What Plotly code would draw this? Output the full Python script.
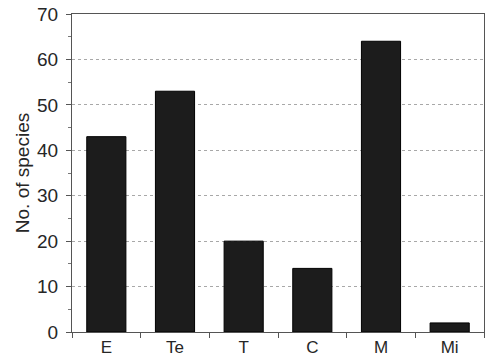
import plotly.graph_objects as go

categories = ["E", "Te", "T", "C", "M", "Mi"]
species = [43, 53, 20, 14, 64, 2]
y_ticks = [0, 10, 20, 30, 40, 50, 60, 70]

fig = go.Figure(go.Bar(
    x=categories, y=species,
    marker=dict(color="#1c1c1c", line=dict(color="#000000", width=1)),
))

fig.update_layout(
    width=488, height=357,
    margin=dict(l=72, r=4, t=14, b=25),
    paper_bgcolor="white", plot_bgcolor="white",
    bargap=0.43,
    showlegend=False,
    font=dict(family="Liberation Sans, Arial, sans-serif", color="#262626"),
)
fig.update_yaxes(
    range=[0, 70], tickvals=y_ticks, automargin=False,
    showgrid=True, gridcolor="#a8a8a8", griddash="dot", gridwidth=1,
    ticks="outside", ticklen=5, tickcolor="#555555",
    minor=dict(ticks="outside", ticklen=3, dtick=5, tickcolor="#777777", showgrid=False),
    showline=True, linecolor="#555555", linewidth=1, mirror=True,
    tickfont=dict(size=19), zeroline=False, ticklabelstandoff=4,
    title=dict(text="No. of species", font=dict(size=19), standoff=2),
)
fig.update_xaxes(
    tickson="boundaries", ticks="outside", ticklen=5, tickcolor="#555555",
    showline=True, linecolor="#555555", linewidth=1, mirror=True, automargin=False,
    tickfont=dict(size=17), showgrid=False,
)

fig.write_html(
    "out.html",
    config={"displayModeBar": False},
    post_script="document.body.style.margin='0';document.body.style.overflow='hidden';",
)
